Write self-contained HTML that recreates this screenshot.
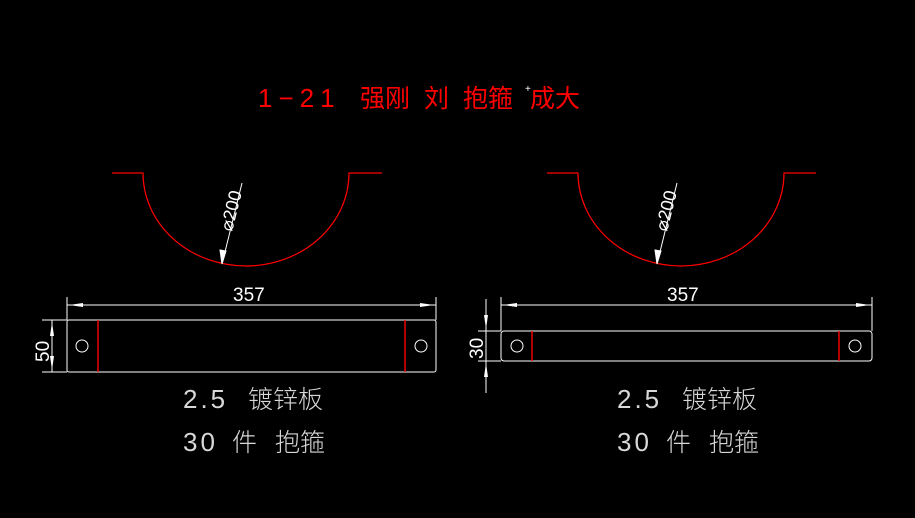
<!DOCTYPE html>
<html><head><meta charset="utf-8"><style>
html,body{margin:0;padding:0;background:#000;}
svg{display:block;}
text{font-family:"Liberation Sans","Noto Sans CJK SC",sans-serif;}
</style></head><body>
<svg width="915" height="518" viewBox="0 0 915 518" xmlns="http://www.w3.org/2000/svg">
<rect width="915" height="518" fill="#000"/>
<g fill="#ff0000" font-size="25">
<text x="258" y="107" font-size="26" letter-spacing="6" font-weight="300">1−21</text>
<text x="360" y="107">强刚</text>
<text x="424" y="107">刘</text>
<text x="463" y="107">抱箍</text>
<text x="530" y="107">成大</text>
</g>
<text x="525" y="92" fill="#fff" font-size="10">+</text>

<g fill="none" stroke="#ff0000" stroke-width="1.2">
<path d="M112 173 H143 A103 93 0 0 0 349 173 H382"/>
<path d="M547 173 H578 A103 93 0 0 0 784 173 H816"/>
</g>
<g stroke="#fff" stroke-width="1" fill="#fff">
<line x1="242" y1="183" x2="222" y2="264"/>
<polygon points="222,264 220,250 226,251"/>
<line x1="677" y1="183" x2="657" y2="264"/>
<polygon points="657,264 655,250 661,251"/>
</g>
<g fill="#fff" font-size="18">
<text transform="translate(232,232) rotate(-76)">⌀200</text>
<text transform="translate(667,232) rotate(-76)">⌀200</text>
</g>

<g stroke="#fff" stroke-width="1" fill="none">
<rect x="67" y="320" width="369" height="52" rx="2"/>
<line x1="67" y1="297" x2="67" y2="320"/>
<line x1="436" y1="297" x2="436" y2="320"/>
<line x1="67" y1="305" x2="436" y2="305"/>
<line x1="42" y1="320" x2="67" y2="320"/>
<line x1="42" y1="372" x2="67" y2="372"/>
<line x1="52" y1="320" x2="52" y2="372"/>
<circle cx="82" cy="346" r="6"/>
<circle cx="421" cy="346" r="6"/>
</g>
<g fill="#fff">
<polygon points="69,305 83,303 83,307"/>
<polygon points="434,305 420,303 420,307"/>
<polygon points="52,322 50,336 54,336"/>
<polygon points="52,370 50,356 54,356"/>
</g>
<g stroke="#ff0000" stroke-width="1.4">
<line x1="98" y1="320" x2="98" y2="372"/>
<line x1="405" y1="320" x2="405" y2="372"/>
</g>
<text x="233" y="301" fill="#fff" font-size="19">357</text>
<text transform="translate(49,362) rotate(-90)" fill="#fff" font-size="19">50</text>

<g stroke="#fff" stroke-width="1" fill="none">
<rect x="501" y="331" width="371" height="30" rx="3"/>
<line x1="501" y1="297" x2="501" y2="331"/>
<line x1="872" y1="297" x2="872" y2="331"/>
<line x1="501" y1="305" x2="872" y2="305"/>
<line x1="478" y1="331" x2="501" y2="331"/>
<line x1="478" y1="361" x2="501" y2="361"/>
<line x1="486" y1="299" x2="486" y2="393"/>
<circle cx="517" cy="346" r="6"/>
<circle cx="855" cy="346" r="6"/>
</g>
<g fill="#fff">
<polygon points="503,305 517,303 517,307"/>
<polygon points="870,305 856,303 856,307"/>
<polygon points="486,329 484,315 488,315"/>
<polygon points="486,363 484,377 488,377"/>
</g>
<g stroke="#ff0000" stroke-width="1.4">
<line x1="532" y1="331" x2="532" y2="361"/>
<line x1="839" y1="331" x2="839" y2="361"/>
</g>
<text x="667" y="301" fill="#fff" font-size="19">357</text>
<text transform="translate(483,359) rotate(-90)" fill="#fff" font-size="19">30</text>

<g fill="#d8d8d8" font-size="26" font-weight="300">
<text x="183" y="408" letter-spacing="3">2.5</text>
<text x="248" y="408" font-size="25">镀锌板</text>
<text x="183" y="451" letter-spacing="3">30</text>
<text x="232" y="451" font-size="25">件</text>
<text x="275" y="451" font-size="25">抱箍</text>
<text x="617" y="408" letter-spacing="3">2.5</text>
<text x="682" y="408" font-size="25">镀锌板</text>
<text x="617" y="451" letter-spacing="3">30</text>
<text x="666" y="451" font-size="25">件</text>
<text x="709" y="451" font-size="25">抱箍</text>
</g>
</svg>
</body></html>
